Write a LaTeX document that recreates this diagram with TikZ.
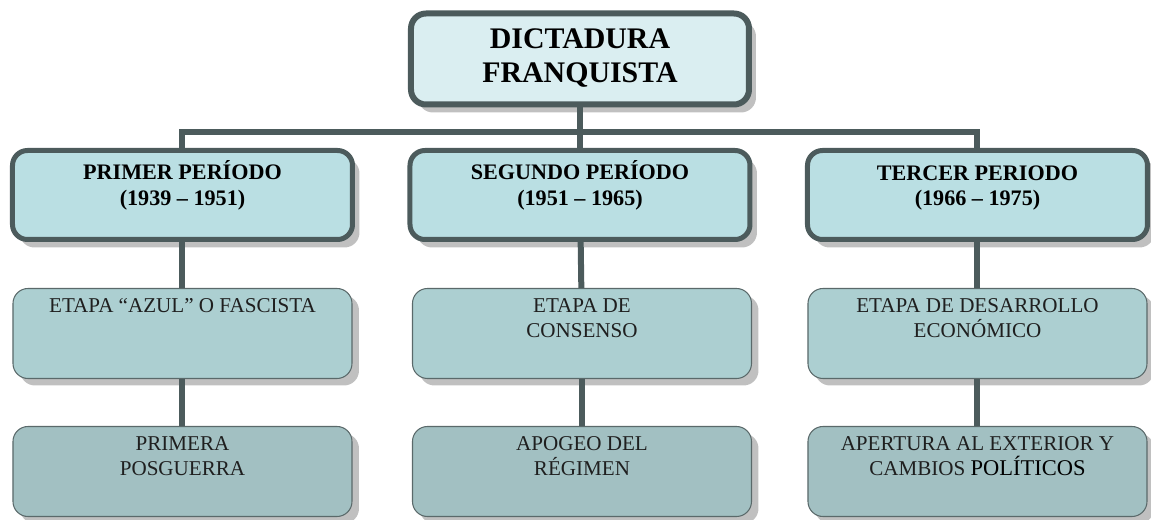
\documentclass[tikz,border=0pt]{standalone}
\usepackage{fontspec}
\setmainfont{Liberation Serif}
\usetikzlibrary{positioning, shadows}
\definecolor{linec}{RGB}{76,91,92}
\definecolor{titlefill}{RGB}{218,238,241}
\definecolor{periodfill}{RGB}{186,223,227}
\definecolor{stagefill}{RGB}{172,207,209}
\definecolor{laterfill}{RGB}{162,192,194}
\definecolor{stageline}{RGB}{90,105,106}
\definecolor{shadowc}{RGB}{192,192,192}
\tikzstyle{titlebox} = [rectangle, rounded corners=0.3cm, minimum width=6.76cm, minimum height=1.82cm, draw=linec, line width=0.12cm, fill=titlefill, drop shadow={shadow xshift=0.14cm, shadow yshift=-0.16cm, fill=shadowc, opacity=1}]
\tikzstyle{period} = [rectangle, rounded corners=0.3cm, minimum width=6.8cm, minimum height=1.78cm, draw=linec, line width=0.1cm, fill=periodfill, drop shadow={shadow xshift=0.14cm, shadow yshift=-0.16cm, fill=shadowc, opacity=1}]
\tikzstyle{stage} = [rectangle, rounded corners=0.3cm, minimum width=6.78cm, minimum height=1.8cm, draw=stageline, line width=0.6pt, fill=stagefill, drop shadow={shadow xshift=0.14cm, shadow yshift=-0.14cm, fill=shadowc, opacity=1}]
\tikzstyle{later} = [stage, fill=laterfill]
\tikzstyle{conn} = [draw=linec, line width=0.12cm]
\tikzset{
  titletext/.style={anchor=north, yshift=-0.36cm, inner sep=0pt, align=center, font={\fontsize{17}{19.5}\selectfont\bfseries}},
  periodtext/.style={anchor=north, yshift=-0.25cm, inner sep=0pt, align=center, font={\fontsize{12.6}{14.4}\selectfont\bfseries}},
  stagetext/.style={anchor=north, yshift=-0.2cm, inner sep=0pt, align=center, text=black!88, font={\fontsize{12}{14.4}\selectfont}}}

\begin{document}
\begin{tikzpicture}[node distance = 2.72cm]
    \useasboundingbox (-11.6,1.18) rectangle (11.42,-9.22);

    \node (dictadura) [titlebox, label={[titletext]north:{DICTADURA\\FRANQUISTA}}] {};
    \node (segundo) [period, below of=dictadura, label={[periodtext]north:{SEGUNDO PERÍODO\\(1951 – 1965)}}] {};
    \node (primer) [period, left of=segundo, xshift=-5.23cm, label={[periodtext]north:{PRIMER PERÍODO\\(1939 – 1951)}}] {};
    \node (tercer) [period, right of=segundo, xshift=5.23cm, label={[periodtext, yshift=-0.1cm]north:{TERCER PERIODO\\(1966 – 1975)}}] {};

    \node (azul) [stage, below of=primer, yshift=-0.05cm, label={[stagetext]north:{ETAPA “AZUL” O FASCISTA}}] {};
    \node (consenso) [stage, below of=segundo, yshift=-0.05cm, xshift=0.04cm, label={[stagetext]north:{ETAPA DE\\CONSENSO}}] {};
    \node (desarrollo) [stage, below of=tercer, yshift=-0.05cm, label={[stagetext]north:{ETAPA DE DESARROLLO\\ECONÓMICO}}] {};

    \node (posguerra) [later, below of=azul, yshift=-0.04cm, label={[stagetext]north:{PRIMERA\\POSGUERRA}}] {};
    \node (apogeo) [later, below of=consenso, yshift=-0.04cm, label={[stagetext]north:{APOGEO DEL\\RÉGIMEN}}] {};
    \node (apertura) [later, below of=desarrollo, yshift=-0.04cm, label={[stagetext]north:{APERTURA AL EXTERIOR Y\\CAMBIOS {\color{black}\fontsize{12.8}{14.4}\selectfont POLÍTICOS}}}] {};

    \coordinate[below=0.5cm of dictadura.south] (junction);

    \draw [conn] (dictadura) -- (segundo);
    \draw [conn] (primer.north) |- (junction) -| (tercer.north);
    \draw [conn] (primer) -- (azul);
    \draw [conn] (segundo) -- (consenso);
    \draw [conn] (tercer) -- (desarrollo);
    \draw [conn] (azul) -- (posguerra);
    \draw [conn] (consenso) -- (apogeo);
    \draw [conn] (desarrollo) -- (apertura);
\end{tikzpicture}
\end{document}
